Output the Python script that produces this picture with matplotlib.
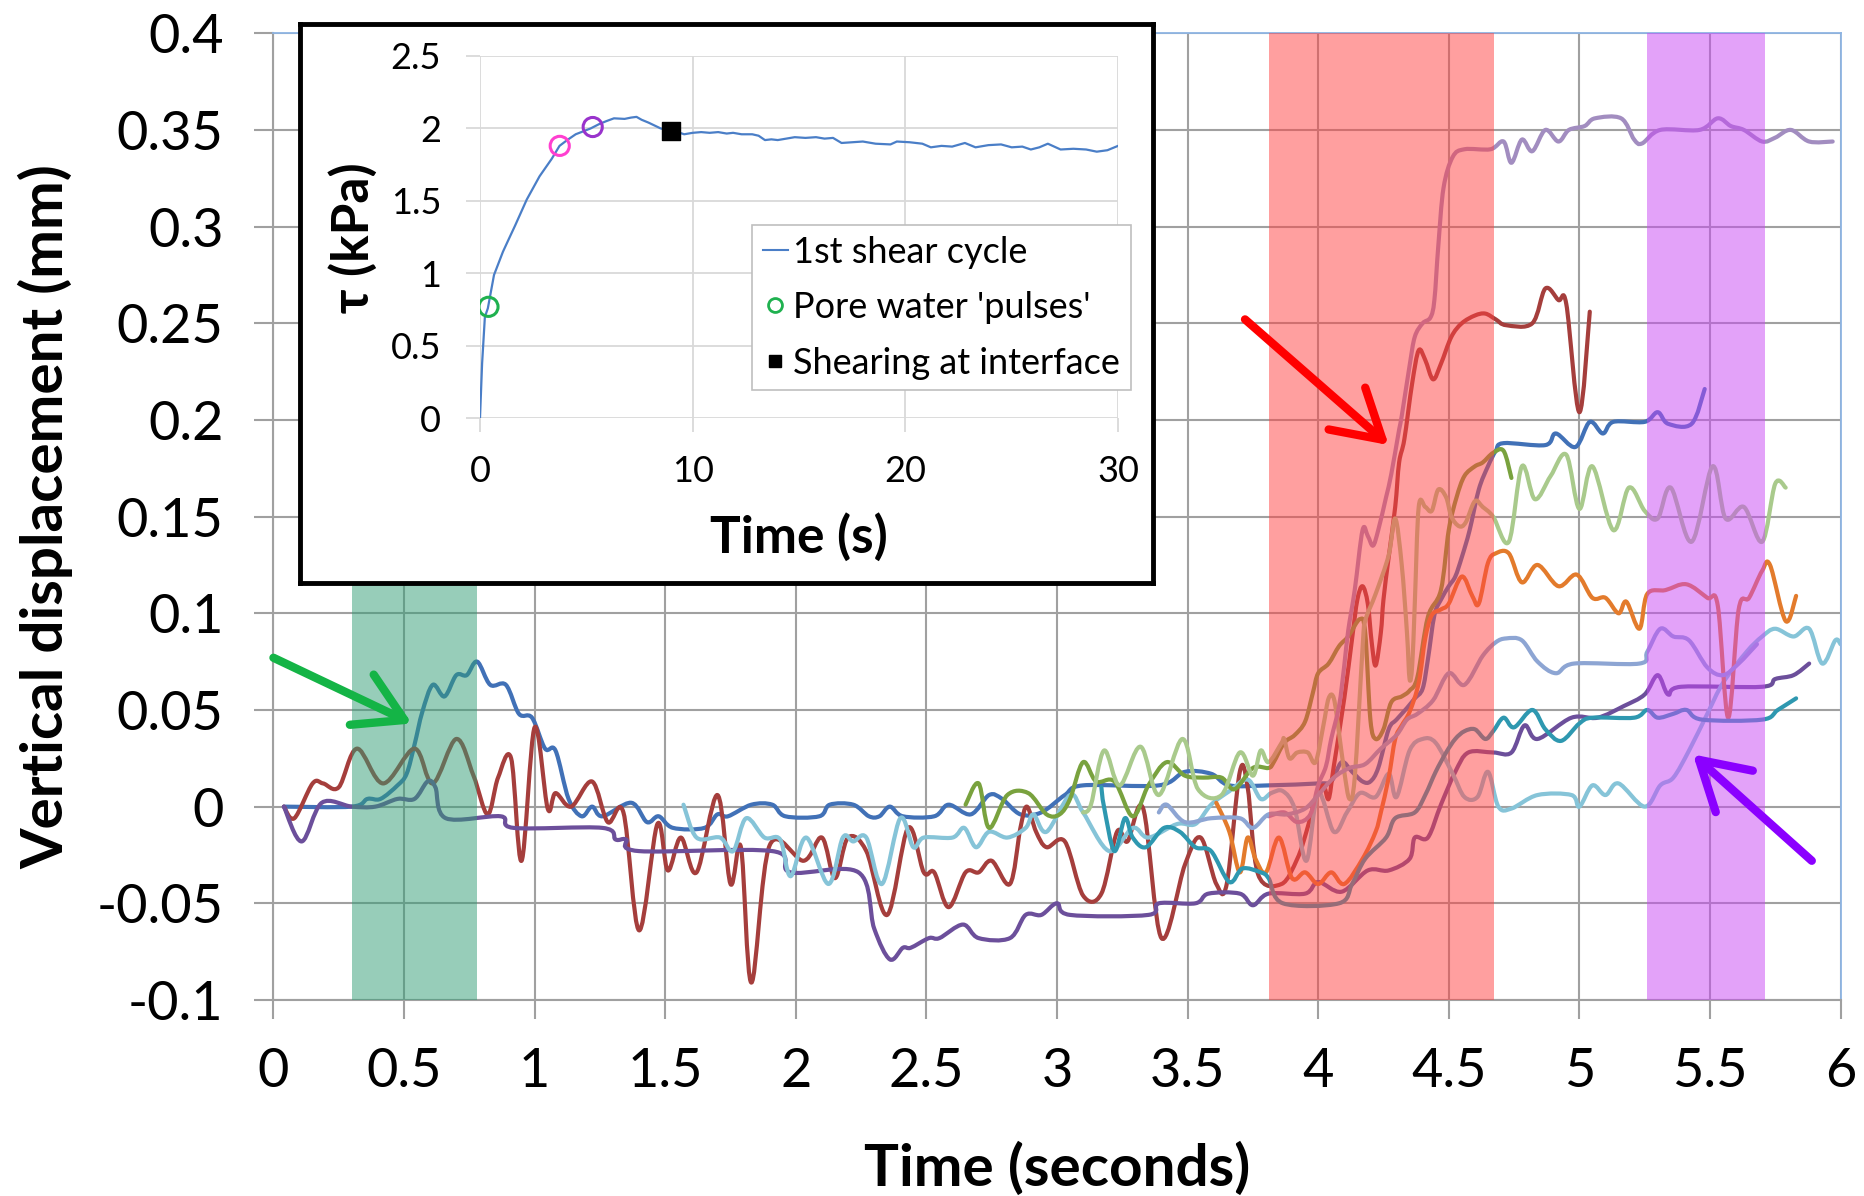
import numpy as np
import matplotlib.pyplot as plt
from matplotlib.lines import Line2D
from matplotlib.path import Path
from matplotlib.patches import PathPatch

plt.rcParams['font.family'] = ['Lato', 'DejaVu Sans']

# Vertical displacement traces, (time s, displacement mm)
trace_a = np.array([
    (0.04, 0), (0.30, 0), (0.36, 0.004), (0.41, 0.004), (0.475, 0.011), (0.51, 0.017), (0.54, 0.032),
    (0.57, 0.049), (0.61, 0.063), (0.655, 0.057), (0.70, 0.068), (0.74, 0.068), (0.78, 0.075),
    (0.83, 0.063), (0.89, 0.063), (0.94, 0.048), (0.99, 0.046), (1.04, 0.030), (1.08, 0.029),
    (1.13, 0.004), (1.18, -0.005), (1.22, 0), (1.26, -0.005), (1.37, 0.002), (1.43, -0.008),
    (1.475, -0.005), (1.53, -0.011), (1.65, -0.011), (1.70, -0.004), (1.74, -0.005), (1.83, 0.001),
    (1.91, 0.001), (1.96, -0.005), (2.09, -0.005), (2.13, 0.001), (2.22, 0.001), (2.28, -0.005),
    (2.32, -0.005), (2.36, 0), (2.41, -0.005), (2.53, -0.005), (2.585, 0.001), (2.67, -0.004),
    (2.74, 0.006), (2.79, 0.004), (2.86, -0.004), (2.94, -0.003), (3.03, 0.006), (3.10, 0.011),
    (3.39, 0.011), (3.49, 0.018), (3.59, 0.017), (3.66, 0.011), (3.81, 0.011), (4.0, 0.012),
    (4.05, 0.013), (4.09, 0.023), (4.13, 0.018), (4.17, 0.013), (4.20, 0.013), (4.23, 0.020),
    (4.27, 0.040), (4.30, 0.045), (4.34, 0.051), (4.37, 0.056), (4.40, 0.061), (4.42, 0.076),
    (4.445, 0.099), (4.47, 0.107), (4.50, 0.114), (4.525, 0.119), (4.55, 0.129), (4.58, 0.143),
    (4.615, 0.164), (4.65, 0.176), (4.68, 0.184), (4.71, 0.188), (4.87, 0.187), (4.91, 0.193),
    (4.985, 0.186), (5.04, 0.199), (5.09, 0.193), (5.13, 0.199), (5.25, 0.199), (5.30, 0.204),
    (5.34, 0.198), (5.43, 0.198), (5.48, 0.216)])

trace_b = np.array([
    (0.04, 0), (0.08, -0.006), (0.15, 0.012), (0.19, 0.012), (0.25, 0.010), (0.32, 0.030),
    (0.42, 0.012), (0.54, 0.030), (0.61, 0.012), (0.70, 0.035), (0.766, 0.016), (0.82, -0.004),
    (0.86, 0.015), (0.91, 0.025), (0.95, -0.028), (1.0, 0.041), (1.05, -0.001), (1.08, 0.007),
    (1.14, 0), (1.22, 0.013), (1.28, -0.008), (1.34, -0.003), (1.40, -0.064), (1.47, -0.009),
    (1.51, -0.033), (1.56, -0.016), (1.62, -0.034), (1.70, 0.006), (1.75, -0.040), (1.79, -0.021),
    (1.83, -0.091), (1.90, -0.020), (2.03, -0.028), (2.10, -0.016), (2.15, -0.037), (2.20, -0.016),
    (2.27, -0.023), (2.35, -0.056), (2.43, -0.011), (2.49, -0.034), (2.53, -0.034), (2.585, -0.052),
    (2.65, -0.034), (2.70, -0.034), (2.75, -0.028), (2.82, -0.040), (2.86, -0.011), (2.885, 0),
    (2.92, -0.013), (2.96, -0.021), (3.03, -0.018), (3.10, -0.046), (3.17, -0.045), (3.23, -0.013),
    (3.27, -0.018), (3.33, -0.001), (3.40, -0.068), (3.49, -0.030), (3.55, -0.016), (3.61, -0.040),
    (3.65, -0.040), (3.70, 0.018), (3.73, 0.010), (3.77, -0.035), (3.86, -0.040), (3.92, -0.027),
    (3.955, -0.013), (3.99, 0.004), (4.02, 0.011), (4.04, 0.004), (4.06, 0.021), (4.10, 0.056),
    (4.13, 0.087), (4.15, 0.107), (4.17, 0.114), (4.19, 0.105), (4.205, 0.085), (4.22, 0.073),
    (4.24, 0.090), (4.25, 0.107), (4.27, 0.129), (4.295, 0.155), (4.31, 0.178), (4.33, 0.190),
    (4.36, 0.219), (4.385, 0.236), (4.41, 0.231), (4.44, 0.221), (4.47, 0.229), (4.51, 0.243),
    (4.55, 0.250), (4.60, 0.254), (4.64, 0.255), (4.68, 0.252), (4.72, 0.249), (4.82, 0.250),
    (4.87, 0.268), (4.92, 0.262), (4.95, 0.260), (5.0, 0.204), (5.04, 0.256)])

trace_c = np.array([
    (0.04, 0), (0.108, -0.018), (0.185, 0.002), (0.30, 0), (0.39, 0), (0.475, 0.004), (0.54, 0.004),
    (0.59, 0.013), (0.62, 0.010), (0.66, -0.006), (0.87, -0.005), (0.92, -0.011), (1.26, -0.011),
    (1.31, -0.017), (1.35, -0.017), (1.40, -0.023), (1.91, -0.023), (1.98, -0.034), (2.24, -0.034),
    (2.30, -0.063), (2.36, -0.079), (2.41, -0.073), (2.44, -0.073), (2.51, -0.068), (2.55, -0.068),
    (2.64, -0.061), (2.70, -0.068), (2.82, -0.068), (2.88, -0.056), (2.94, -0.056), (3.0, -0.050),
    (3.05, -0.056), (3.35, -0.056), (3.39, -0.050), (3.53, -0.050), (3.58, -0.045), (3.70, -0.045),
    (3.75, -0.051), (3.81, -0.045), (3.95, -0.045), (4.0, -0.039), (4.09, -0.044), (4.19, -0.033),
    (4.27, -0.033), (4.35, -0.027), (4.37, -0.016), (4.42, -0.016), (4.47, 0.001), (4.525, 0.018),
    (4.575, 0.028), (4.67, 0.028), (4.74, 0.028), (4.79, 0.042), (4.84, 0.035), (4.97, 0.046),
    (5.07, 0.046), (5.17, 0.052), (5.25, 0.058), (5.30, 0.068), (5.34, 0.058), (5.39, 0.062),
    (5.70, 0.062), (5.75, 0.066), (5.82, 0.068), (5.88, 0.074)])

trace_d = np.array([
    (1.57, 0.001), (1.62, -0.016), (1.71, -0.016), (1.76, -0.023), (1.81, -0.006), (1.88, -0.016),
    (1.94, -0.017), (1.98, -0.036), (2.04, -0.016), (2.125, -0.040), (2.18, -0.016), (2.22, -0.018),
    (2.27, -0.016), (2.33, -0.040), (2.40, -0.006), (2.45, -0.021), (2.49, -0.016), (2.60, -0.016),
    (2.645, -0.011), (2.69, -0.021), (2.74, -0.013), (2.81, -0.016), (2.88, -0.011), (2.91, -0.004),
    (2.96, -0.013), (3.05, 0.006), (3.10, -0.003), (3.20, -0.023), (3.29, -0.011), (3.35, -0.016),
    (3.46, -0.009), (3.53, -0.009), (3.59, 0.001), (3.66, 0.008), (3.73, 0.014), (3.78, 0.004),
    (3.82, 0.007), (3.865, 0.008), (3.91, -0.001), (3.955, -0.028), (4.0, 0.007), (4.06, -0.013),
    (4.11, -0.003), (4.16, 0.007), (4.22, 0.005), (4.27, 0.017), (4.30, 0.005), (4.35, 0.029),
    (4.40, 0.035), (4.45, 0.033), (4.515, 0.017), (4.56, 0.005), (4.61, 0.005), (4.65, 0.018),
    (4.69, 0), (4.74, -0.001), (4.84, 0.006), (4.97, 0.006), (5.0, 0), (5.05, 0.011), (5.10, 0.006),
    (5.15, 0.012), (5.25, 0), (5.31, 0.011), (5.36, 0.015), (5.42, 0.029), (5.49, 0.048),
    (5.55, 0.064), (5.64, 0.080), (5.70, 0.088), (5.75, 0.092), (5.82, 0.088), (5.88, 0.092),
    (5.93, 0.074), (5.98, 0.086), (6.0, 0.084)])

trace_e = np.array([
    (2.65, 0.001), (2.70, 0.012), (2.74, -0.011), (2.81, 0.006), (2.89, 0.007), (2.96, -0.004),
    (3.01, -0.004), (3.05, 0.004), (3.10, 0.023), (3.15, 0.013), (3.22, 0.013), (3.29, -0.005),
    (3.35, 0.011), (3.42, 0.023), (3.49, 0.016), (3.56, 0.015), (3.63, 0.015), (3.68, 0.009),
    (3.75, 0.020), (3.81, 0.020), (3.83, 0.023), (3.87, 0.033), (3.91, 0.037), (3.95, 0.044),
    (3.98, 0.059), (4.0, 0.069), (4.04, 0.074), (4.08, 0.083), (4.115, 0.088), (4.16, 0.097),
    (4.18, 0.090), (4.20, 0.045), (4.22, 0.035), (4.25, 0.040), (4.28, 0.054), (4.32, 0.057),
    (4.35, 0.060), (4.38, 0.067), (4.42, 0.098), (4.47, 0.112), (4.50, 0.143), (4.53, 0.160),
    (4.56, 0.171), (4.60, 0.176), (4.63, 0.178), (4.67, 0.183), (4.71, 0.184), (4.74, 0.170)])

trace_f = np.array([
    (3.61, 0.002), (3.66, -0.013), (3.70, -0.034), (3.73, -0.016), (3.76, -0.027), (3.80, -0.034),
    (3.85, -0.016), (3.90, -0.037), (3.95, -0.034), (4.0, -0.040), (4.05, -0.034), (4.10, -0.040),
    (4.17, -0.027), (4.22, -0.013), (4.24, -0.003), (4.27, 0.015), (4.295, 0.035), (4.32, 0.042),
    (4.35, 0.049), (4.385, 0.064), (4.41, 0.087), (4.435, 0.099), (4.47, 0.102), (4.50, 0.105),
    (4.55, 0.119), (4.59, 0.109), (4.615, 0.105), (4.65, 0.126), (4.68, 0.131), (4.73, 0.131),
    (4.78, 0.116), (4.84, 0.125), (4.92, 0.114), (4.99, 0.120), (5.05, 0.108), (5.10, 0.108),
    (5.15, 0.100), (5.18, 0.106), (5.23, 0.092), (5.26, 0.110), (5.33, 0.112), (5.41, 0.115),
    (5.49, 0.108), (5.53, 0.104), (5.57, 0.046), (5.61, 0.102), (5.65, 0.108), (5.70, 0.122),
    (5.73, 0.125), (5.79, 0.096), (5.83, 0.109)])

trace_g = np.array([
    (3.10, -0.003), (3.13, 0.001), (3.18, 0.029), (3.24, 0.011), (3.32, 0.031), (3.39, 0.006),
    (3.48, 0.035), (3.54, 0.009), (3.63, 0.006), (3.70, 0.028), (3.75, 0.016), (3.78, 0.029),
    (3.81, 0.023), (3.86, 0.033), (3.87, 0.035), (3.89, 0.025), (3.92, 0.028), (3.96, 0.028),
    (3.99, 0.023), (4.02, 0.042), (4.04, 0.056), (4.06, 0.056), (4.08, 0.038), (4.10, 0.018),
    (4.12, 0.004), (4.14, 0.015), (4.17, 0.082), (4.18, 0.096), (4.22, 0.110), (4.27, 0.130),
    (4.295, 0.149), (4.32, 0.125), (4.34, 0.090), (4.35, 0.066), (4.36, 0.073), (4.37, 0.105),
    (4.385, 0.155), (4.41, 0.155), (4.435, 0.153), (4.46, 0.164), (4.49, 0.160), (4.51, 0.150),
    (4.54, 0.145), (4.565, 0.147), (4.60, 0.158), (4.63, 0.155), (4.67, 0.150), (4.73, 0.137),
    (4.78, 0.176), (4.83, 0.159), (4.89, 0.171), (4.95, 0.182), (5.0, 0.154), (5.05, 0.176),
    (5.13, 0.143), (5.19, 0.165), (5.25, 0.153), (5.30, 0.149), (5.35, 0.165), (5.43, 0.137),
    (5.51, 0.176), (5.56, 0.149), (5.63, 0.155), (5.70, 0.137), (5.75, 0.167), (5.79, 0.165)])

trace_h = np.array([
    (3.17, 0.010), (3.18, 0), (3.22, -0.023), (3.26, -0.006), (3.29, -0.016), (3.34, -0.021),
    (3.41, -0.011), (3.47, -0.013), (3.53, -0.021), (3.59, -0.023), (3.66, -0.039), (3.71, -0.032),
    (3.78, -0.034), (3.81, -0.037), (3.865, -0.050), (4.08, -0.050), (4.13, -0.040), (4.18, -0.027),
    (4.26, -0.016), (4.295, -0.006), (4.37, -0.003), (4.41, 0.006), (4.45, 0.018), (4.49, 0.028),
    (4.525, 0.035), (4.56, 0.039), (4.60, 0.040), (4.64, 0.035), (4.67, 0.039), (4.71, 0.046),
    (4.75, 0.041), (4.82, 0.050), (4.87, 0.040), (4.93, 0.034), (5.0, 0.043), (5.05, 0.046),
    (5.21, 0.046), (5.26, 0.050), (5.30, 0.046), (5.36, 0.048), (5.41, 0.050), (5.47, 0.045),
    (5.70, 0.045), (5.76, 0.050), (5.83, 0.056)])

trace_i = np.array([
    (3.81, -0.005), (3.87, -0.003), (3.92, -0.008), (3.97, -0.004), (4.0, 0.011), (4.03, 0.021),
    (4.05, 0.035), (4.08, 0.052), (4.10, 0.073), (4.115, 0.091), (4.14, 0.112), (4.17, 0.143),
    (4.19, 0.140), (4.21, 0.135), (4.23, 0.143), (4.26, 0.160), (4.28, 0.172), (4.31, 0.195),
    (4.32, 0.202), (4.35, 0.228), (4.37, 0.243), (4.40, 0.250), (4.43, 0.253), (4.445, 0.262),
    (4.46, 0.290), (4.48, 0.320), (4.515, 0.336), (4.56, 0.340), (4.66, 0.340), (4.71, 0.344),
    (4.74, 0.333), (4.78, 0.345), (4.82, 0.339), (4.87, 0.350), (4.92, 0.344), (4.96, 0.350),
    (5.02, 0.352), (5.06, 0.356), (5.16, 0.356), (5.21, 0.345), (5.24, 0.343), (5.31, 0.350),
    (5.46, 0.350), (5.53, 0.356), (5.58, 0.352), (5.63, 0.350), (5.70, 0.344), (5.75, 0.346),
    (5.81, 0.350), (5.88, 0.344), (5.97, 0.344)])

trace_j = np.array([
    (3.39, -0.003), (3.42, 0.001), (3.49, -0.008), (3.59, -0.006), (3.70, -0.006), (3.75, -0.011),
    (3.81, -0.004), (3.88, -0.004), (3.95, -0.001), (4.0, 0.006), (4.06, 0.015), (4.12, 0.020),
    (4.18, 0.022), (4.24, 0.030), (4.30, 0.037), (4.34, 0.045), (4.38, 0.048), (4.44, 0.055),
    (4.50, 0.069), (4.56, 0.063), (4.63, 0.078), (4.68, 0.085), (4.72, 0.087), (4.78, 0.086),
    (4.84, 0.075), (4.91, 0.069), (4.98, 0.074), (5.23, 0.074), (5.26, 0.080), (5.31, 0.092),
    (5.36, 0.088), (5.42, 0.086), (5.49, 0.072), (5.55, 0.068), (5.61, 0.074), (5.68, 0.084)])

traces = [trace_a, trace_b, trace_c, trace_d, trace_e, trace_f, trace_g, trace_h, trace_i, trace_j]
trace_colors = ['#4171B7', '#A53E3C', '#6C4F9B', '#86C4D8', '#79A23E',
                '#E37B2C', '#A9CA8C', '#2E98B0', '#A28DC0', '#8DA5D3']

# event windows (s)
band_edges = [(0.30, 0.78), (3.81, 4.675), (5.26, 5.71)]
band_colors = ['#319D75', '#FF4141', '#C947F5']

# arrows: (tail, head, colour)
arrows = [((0.0, 0.077), (0.53, 0.043), '#14B446'),
          ((3.72, 0.252), (4.27, 0.187), '#FF0000'),
          ((5.89, -0.028), (5.435, 0.027), '#8B00FF')]

x_ticks = np.arange(0, 6.01, 0.5)
x_labels = ['0', '0.5', '1', '1.5', '2', '2.5', '3', '3.5', '4', '4.5', '5', '5.5', '6']
y_ticks = np.arange(-0.1, 0.401, 0.05)
y_labels = ['-0.1', '-0.05', '0', '0.05', '0.1', '0.15', '0.2', '0.25', '0.3', '0.35', '0.4']

# inset: shear stress during first cycle
tau = np.array([
    (0, 0), (0.1, 0.38), (0.23, 0.70), (0.37, 0.76), (0.66, 0.99), (1.08, 1.15), (1.3, 1.22),
    (1.65, 1.33), (2.2, 1.51), (2.8, 1.67), (3.37, 1.79), (3.74, 1.88), (4.1, 1.92), (4.5, 1.96),
    (5.2, 2.0), (5.6, 2.03), (5.93, 2.05), (6.3, 2.07), (6.8, 2.066), (7.1, 2.075), (7.36, 2.08),
    (7.6, 2.06), (7.93, 2.04), (8.5, 2.0), (9.0, 1.98), (9.3, 1.975), (9.6, 1.96), (10.0, 1.97),
    (10.4, 1.975), (10.8, 1.97), (11.2, 1.975), (11.6, 1.965), (11.9, 1.97), (12.3, 1.96),
    (12.8, 1.96), (13.1, 1.95), (13.4, 1.92), (13.7, 1.925), (14.0, 1.92), (14.4, 1.93),
    (14.8, 1.94), (15.3, 1.935), (15.8, 1.94), (16.2, 1.93), (16.6, 1.935), (17.0, 1.90),
    (17.5, 1.905), (18.0, 1.91), (18.6, 1.895), (19.3, 1.89), (19.6, 1.91), (20.2, 1.905),
    (20.8, 1.895), (21.2, 1.87), (21.7, 1.88), (22.2, 1.875), (22.8, 1.90), (23.3, 1.87),
    (23.9, 1.885), (24.5, 1.89), (25.0, 1.87), (25.5, 1.875), (25.9, 1.855), (26.3, 1.87),
    (26.7, 1.895), (27.0, 1.875), (27.3, 1.855), (27.9, 1.86), (28.5, 1.855), (29.0, 1.84),
    (29.5, 1.85), (30, 1.88)])
pulse_t = [0.4, 3.75, 5.3]
pulse_tau = [0.77, 1.88, 2.01]
pulse_colors = ['#1FB14F', '#FF3FD0', '#9933CC']
interface_t = [9.0]
interface_tau = [1.98]

grid_col = '#A0A0A0'


def smooth_path(pts):
    # Catmull-Rom spline through the points, written as cubic Bezier segments
    verts = [pts[0]]
    codes = [Path.MOVETO]
    n = len(pts)
    for i in range(n - 1):
        p0 = pts[i - 1] if i > 0 else pts[i]
        p1, p2 = pts[i], pts[i + 1]
        p3 = pts[i + 2] if i + 2 < n else pts[i + 1]
        verts += [p1 + (p2 - p0) / 6, p2 - (p3 - p1) / 6, p2]
        codes += [Path.CURVE4] * 3
    return Path(verts, codes)


fig = plt.figure(figsize=(18.64, 11.96), dpi=100)
fig.patch.set_facecolor('white')
ax = fig.add_axes([0.1467, 0.1639, 0.8407, 0.8083])

for pts, col in zip(traces, trace_colors):
    ax.add_patch(PathPatch(smooth_path(pts), fill=False, edgecolor=col, lw=3.0,
                           joinstyle='round', capstyle='round', zorder=2))

# translucent windows sit over the traces
for (t0, t1), col in zip(band_edges, band_colors):
    ax.axvspan(t0, t1, color=col, alpha=0.5, lw=0, zorder=3)

for tail, head, col in arrows:
    ax.annotate('', xy=head, xytext=tail, zorder=5, annotation_clip=False,
                arrowprops=dict(arrowstyle='->,head_length=0.85,head_width=0.5',
                                color=col, lw=6, mutation_scale=40,
                                shrinkA=0, shrinkB=0, capstyle='round'))

ax.set_xlim(0, 6)
ax.set_ylim(-0.1, 0.4)
ax.set_xticks(x_ticks)
ax.set_xticklabels(x_labels)
ax.set_yticks(y_ticks)
ax.set_yticklabels(y_labels)
ax.grid(True, color=grid_col, lw=1.5)
ax.set_axisbelow(True)
ax.tick_params(direction='out', length=14, width=1.5, color=grid_col, labelsize=39)
ax.tick_params(axis='x', pad=20)
ax.tick_params(axis='y', pad=22)
for side in ['left', 'bottom']:
    ax.spines[side].set_color(grid_col)
    ax.spines[side].set_linewidth(1.5)
for side in ['top', 'right']:
    ax.spines[side].set_color('#8EB4E3')
    ax.spines[side].set_linewidth(1.3)

ax.set_xlabel('Time (seconds)', fontsize=42, fontweight='bold')
ax.set_ylabel('Vertical displacement (mm)', fontsize=42, fontweight='bold')
ax.xaxis.set_label_coords(0.5, -0.146)
ax.yaxis.set_label_coords(-0.128, 0.5)

# inset box
frame = fig.add_axes([0.1609, 0.5125, 0.4576, 0.4674], zorder=10)
frame.set_xticks([])
frame.set_yticks([])
frame.set_facecolor('white')
for s in frame.spines.values():
    s.set_linewidth(3.5)
    s.set_color('black')

ins = fig.add_axes([0.2575, 0.6501, 0.3423, 0.3031], zorder=11)
ins.set_facecolor('none')
ins.plot(tau[:, 0], tau[:, 1], color='#4A7EC7', lw=1.6)
ins.scatter(pulse_t, pulse_tau, s=190, facecolors='none', edgecolors=pulse_colors,
            linewidths=2.2, zorder=4)
ins.scatter(interface_t, interface_tau, s=150, marker='s', color='black', zorder=4)
ins.set_xlim(0, 30)
ins.set_ylim(0, 2.5)
ins.set_xticks([0, 10, 20, 30])
ins.set_yticks([0, 0.5, 1, 1.5, 2, 2.5])
ins.set_yticklabels(['0', '0.5', '1', '1.5', '2', '2.5'])
ins.grid(True, color='#D9D9D9', lw=1.3)
ins.set_axisbelow(True)
for s in ins.spines.values():
    s.set_visible(False)
ins.tick_params(direction='out', length=10, width=1.3, color='#D9D9D9', labelsize=26)
ins.tick_params(axis='x', pad=16)
ins.tick_params(axis='y', pad=18)
ins.set_xlabel('Time (s)', fontsize=37, fontweight='bold')
ins.set_ylabel('τ (kPa)', fontsize=37, fontweight='bold')
ins.xaxis.set_label_coords(0.5, -0.26)
ins.yaxis.set_label_coords(-0.16, 0.5)

handles = [Line2D([], [], color='#4A7EC7', lw=1.5),
           Line2D([], [], ls='none', marker='o', ms=10, mfc='none', mec='#1FB14F', mew=2),
           Line2D([], [], ls='none', marker='s', ms=9, color='black')]
leg = ins.legend(handles, ['1st shear cycle', "Pore water 'pulses'", 'Shearing at interface'],
                 loc='upper left', bbox_to_anchor=(0.426, 0.534), fontsize=26,
                 frameon=True, fancybox=False, framealpha=1, edgecolor='#BFBFBF',
                 handlelength=0.7, handletextpad=0.15, borderpad=0.3,
                 labelspacing=0.62, borderaxespad=0)
leg.get_frame().set_linewidth(1.2)

fig.savefig('out.png', dpi=100)
